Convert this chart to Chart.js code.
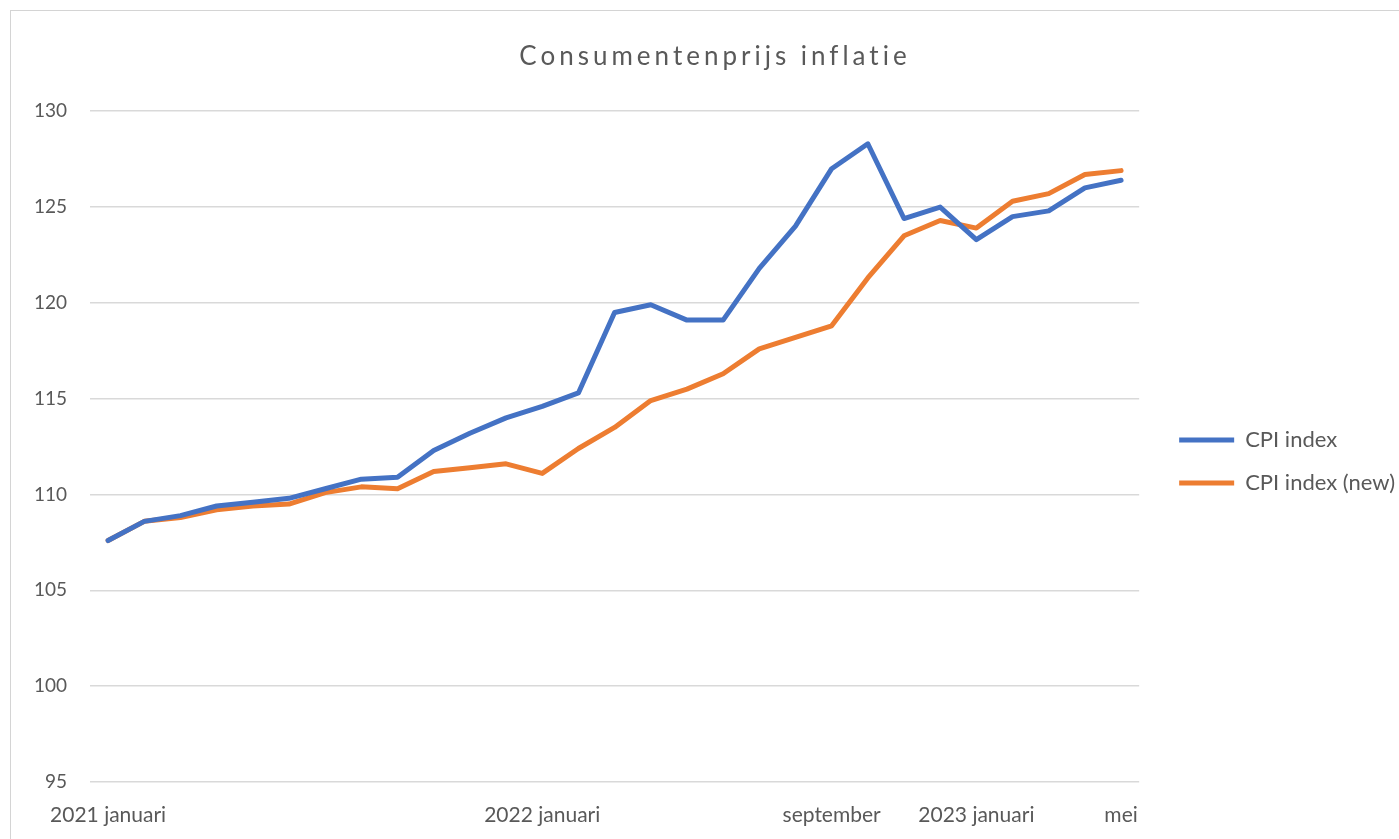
<!DOCTYPE html>
<html>
<head>
<meta charset="utf-8">
<script src="https://cdn.jsdelivr.net/npm/chart.js@4"></script>
<style>
html, body { margin: 0; padding: 0; background: #fff; }
#frame { position: absolute; left: 10px; top: 10px; width: 1400px; height: 840px;
  border-left: 1px solid #d4d4d4; border-top: 1px solid #d4d4d4; }
#wrap { position: absolute; left: 0; top: 0; width: 1399px; height: 839px; }
</style>
</head>
<body>
<div id="frame"></div>
<div id="wrap"><canvas id="c"></canvas></div>
<script>
/* DATA */
const months = [
  "2021 januari","februari","maart","april","mei","juni","juli","augustus","september","oktober","november","december",
  "2022 januari","februari","maart","april","mei","juni","juli","augustus","september","oktober","november","december",
  "2023 januari","februari","maart","april","mei"
];
// only these category labels are printed on the axis
const shownIdx = [0, 12, 20, 24, 28];

const cpi = [107.6, 108.6, 108.9, 109.4, 109.6, 109.8, 110.3, 110.8, 110.9, 112.3, 113.2, 114.0, 114.6, 115.3,
  119.5, 119.9, 119.1, 119.1, 121.8, 124.0, 127.0, 128.3, 124.4, 125.0, 123.3, 124.5, 124.8, 126.0, 126.4];
const cpiNew = [107.6, 108.6, 108.8, 109.2, 109.4, 109.5, 110.1, 110.4, 110.3, 111.2, 111.4, 111.6, 111.1, 112.4,
  113.5, 114.9, 115.5, 116.3, 117.6, 118.2, 118.8, 121.3, 123.5, 124.3, 123.9, 125.3, 125.7, 126.7, 126.9];

const yMin = 95, yMax = 130, yStep = 5;

const FONT = "Lato, 'Open Sans', sans-serif";
const GREY = "#595959";

/* spaced-out title like the Excel original */
const titleSpacing = {
  id: "titleSpacing",
  beforeDraw(chart) {
    const t = chart.titleBlock;
    if (!t || t._spaced) return;
    const draw = t.draw;
    t.draw = function (area) {
      this.ctx.letterSpacing = "4px";
      draw.call(this, area);
      this.ctx.letterSpacing = "0px";
    };
    t._spaced = true;
  }
};

/* move title a little right, legend right and down */
const nudge = {
  id: "nudge",
  afterLayout(chart) {
    const t = chart.titleBlock;
    t.left += 12; t.right += 12;
    const l = chart.legend;
    l.left += 19; l.right += 19;
    l.top += 42; l.bottom += 42;
  }
};

new Chart(document.getElementById("c"), {
  type: "line",
  data: {
    labels: months,
    datasets: [
      { label: "CPI index", data: cpi, borderColor: "#4472C4", backgroundColor: "#4472C4",
        borderWidth: 5, pointRadius: 0, tension: 0, borderJoinStyle: "round", borderCapStyle: "round" },
      { label: "CPI index (new)", data: cpiNew, borderColor: "#ED7D31", backgroundColor: "#ED7D31",
        borderWidth: 5, pointRadius: 0, tension: 0, borderJoinStyle: "round", borderCapStyle: "round" }
    ]
  },
  plugins: [titleSpacing, nudge],
  options: {
    responsive: true,
    maintainAspectRatio: false,
    animation: false,
    layout: { padding: { left: 20, right: 13, top: 0, bottom: 0 } },
    plugins: {
      title: {
        display: true,
        text: "Consumentenprijs inflatie",
        color: GREY,
        font: { family: FONT, size: 26, weight: "normal" },
        padding: { top: 41, bottom: 39 }
      },
      legend: {
        position: "right",
        labels: {
          color: GREY,
          font: { family: FONT, size: 22 },
          usePointStyle: true,
          pointStyle: "line",
          pointStyleWidth: 55,
          boxHeight: 5,
          padding: 21
        }
      },
      tooltip: { enabled: false }
    },
    scales: {
      x: {
        offset: true,
        grid: { display: false },
        border: { display: false },
        ticks: {
          autoSkip: false,
          maxRotation: 0,
          color: GREY,
          font: { family: FONT, size: 21 },
          padding: 13,
          callback: (v, i) => shownIdx.includes(i) ? months[i] : ""
        },
        afterFit: (s) => { s.height = 57; }
      },
      y: {
        min: yMin,
        max: yMax,
        grid: { color: "#d9d9d9", lineWidth: 1.5, drawTicks: false },
        border: { display: false },
        ticks: {
          stepSize: yStep,
          color: GREY,
          font: { family: FONT, size: 19 },
          padding: 23
        },
        afterFit: (s) => { s.width = 70; }
      }
    }
  }
});
</script>
</body>
</html>
